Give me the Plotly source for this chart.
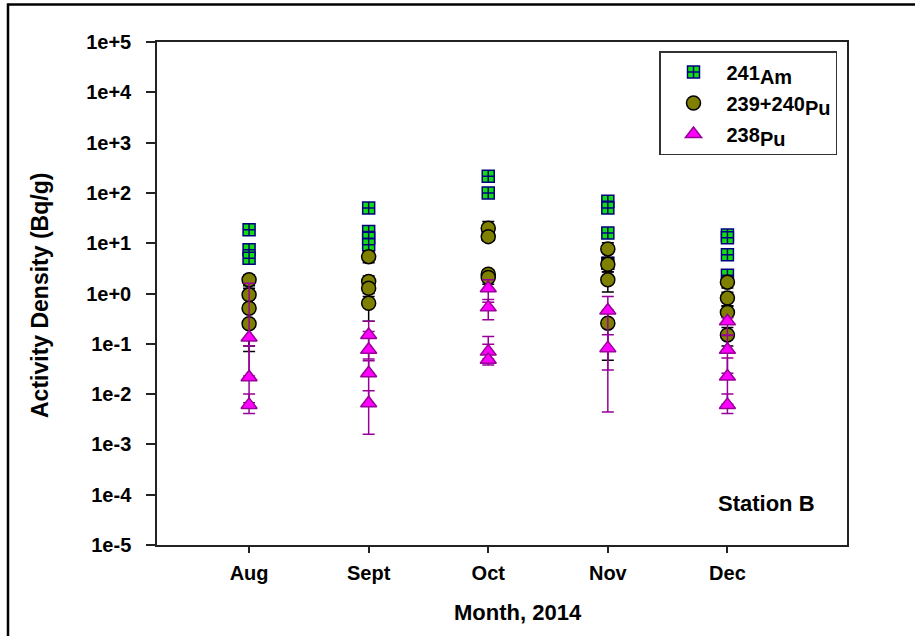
import plotly.graph_objects as go

# ---------------- data ----------------
months = ["Aug", "Sept", "Oct", "Nov", "Dec"]

# 241Am
am_month = ["Aug", "Aug", "Aug", "Sept", "Sept", "Sept", "Sept", "Oct", "Oct", "Oct",
            "Nov", "Nov", "Nov", "Nov", "Dec", "Dec", "Dec", "Dec"]
am_val = [18.5, 7.4, 5.0, 50, 17, 12.6, 9.3, 215, 100, 15,
          68, 50, 16, 4.0, 14.5, 12.8, 5.9, 2.3]
am_err = [1.3, 0.6, 0.4, 3.5, 1.3, 1.0, 0.7, 15, 7, 1.1,
          5, 3.5, 1.2, 0.3, 1.0, 0.9, 0.45, 0.18]

# 239+240Pu
pu9_month = ["Aug", "Aug", "Aug", "Aug", "Sept", "Sept", "Sept", "Sept", "Oct", "Oct", "Oct", "Oct",
             "Nov", "Nov", "Nov", "Nov", "Dec", "Dec", "Dec", "Dec"]
pu9_val = [1.87, 0.94, 0.51, 0.25, 5.4, 1.73, 1.27, 0.64, 19.9, 13.5, 2.42, 2.08,
           7.7, 3.8, 1.87, 0.257, 1.68, 0.81, 0.42, 0.15]
pu9_err = [0.45, 0.33, 0.42, 0.18, 1.3, 0.5, 0.4, 0.36, 7.0, 2.5, 0.55, 0.55,
           2.5, 1.1, 0.8, 0.21, 0.4, 0.25, 0.15, 0.06]

# 238Pu
pu8_month = ["Aug", "Aug", "Aug", "Sept", "Sept", "Sept", "Sept", "Oct", "Oct", "Oct", "Oct",
             "Nov", "Nov", "Dec", "Dec", "Dec", "Dec"]
pu8_val = [0.133, 0.0217, 0.0061, 0.15, 0.076, 0.026, 0.0066, 1.27, 0.53, 0.070, 0.048,
           0.46, 0.082, 0.28, 0.076, 0.0223, 0.0061]
pu8_err_plus = [1.47, 0.07, 0.004, 0.13, 0.10, 0.02, 0.005, 0.6, 0.23, 0.07, 0.05,
                0.41, 0.07, 0.05, 0.07, 0.03, 0.004]
pu8_err_minus = [0.11, 0.015, 0.002, 0.10, 0.05, 0.02, 0.005, 0.6, 0.23, 0.02, 0.01,
                 0.43, 0.0776, 0.13, 0.05, 0.016, 0.002]

y_tickvals = [1e-5, 1e-4, 1e-3, 1e-2, 1e-1, 1e0, 1e1, 1e2, 1e3, 1e4, 1e5]
y_ticktext = ["1e-5", "1e-4", "1e-3", "1e-2", "1e-1", "1e+0", "1e+1", "1e+2", "1e+3", "1e+4", "1e+5"]

FONT = "Liberation Sans, Arial, sans-serif"

fig = go.Figure()

fig.add_trace(go.Scatter(
    x=am_month, y=am_val, mode="markers",
    name='241<sub><span style="font-size:20px">Am</span></sub>',
    legendgroup="a",
    marker=dict(symbol="square-cross", size=12, color="#11dd11",
                line=dict(color="#000080", width=1.5)),
    error_y=dict(type="data", array=am_err, color="#000080", thickness=1.5, width=6),
))
fig.add_trace(go.Scatter(
    x=pu9_month, y=pu9_val, mode="markers",
    name='239+240<sub><span style="font-size:20px">Pu</span></sub>',
    legendgroup="b",
    marker=dict(symbol="circle", size=14, color="#808000",
                line=dict(color="#000000", width=1.5)),
    error_y=dict(type="data", array=pu9_err, color="#000000", thickness=1.5, width=6),
))
fig.add_trace(go.Scatter(
    x=pu8_month, y=pu8_val, mode="markers",
    name='238<sub><span style="font-size:20px">Pu</span></sub>',
    legendgroup="c",
    marker=dict(symbol="triangle-up", size=14, color="#ff00ff",
                line=dict(color="#990099", width=1.5)),
    error_y=dict(type="data", symmetric=False, array=pu8_err_plus, arrayminus=pu8_err_minus,
                 color="#990099", thickness=1.5, width=6),
))

L, R, T, B = 157, 68, 42, 91
W, H = 915, 636
pw, ph = W - L - R, H - T - B

def px_to_paper_x(px):
    return (px - L) / pw

def px_to_paper_y(py):
    return (H - B - py) / ph

fig.update_layout(
    width=W, height=H,
    margin=dict(l=L, r=R, t=T, b=B, pad=0),
    paper_bgcolor="white", plot_bgcolor="white",
    font=dict(family=FONT, color="black", size=20, weight="bold"),
    showlegend=True,
    legend=dict(
        x=px_to_paper_x(659), y=px_to_paper_y(51), xanchor="left", yanchor="top",
        bordercolor="#333333", borderwidth=1.5, bgcolor="white",
        font=dict(family=FONT, size=20, color="black", weight="bold"),
        tracegroupgap=2, itemwidth=56, traceorder="grouped",
    ),
    xaxis=dict(
        type="category", categoryorder="array", categoryarray=months,
        range=[-0.77, 5.0],
        showline=True, linecolor="#222222", linewidth=1.5, mirror=True,
        ticks="outside", ticklen=6, tickwidth=1.5, tickcolor="#222222",
        tickfont=dict(family=FONT, size=20, weight="bold"),
        ticklabelstandoff=3,
        showgrid=False, zeroline=False, automargin=False,
    ),
    yaxis=dict(
        type="log", range=[-5, 5],
        tickvals=y_tickvals, ticktext=y_ticktext,
        showline=True, linecolor="#222222", linewidth=1.5, mirror=True,
        ticks="outside", ticklen=9, tickwidth=1.5, tickcolor="#222222",
        tickfont=dict(family=FONT, size=20, weight="bold"),
        ticklabelstandoff=11,
        showgrid=False, zeroline=False, automargin=False,
    ),
    shapes=[dict(
        type="rect", xref="paper", yref="paper",
        x0=px_to_paper_x(8), x1=px_to_paper_x(W + 20),
        y0=px_to_paper_y(H + 20), y1=px_to_paper_y(4.5),
        line=dict(color="black", width=2.5), fillcolor="rgba(0,0,0,0)", layer="below",
    )],
    annotations=[
        dict(text="Station B", xref="paper", yref="paper",
             x=px_to_paper_x(766), y=px_to_paper_y(503), xanchor="center", yanchor="middle",
             showarrow=False, font=dict(family=FONT, size=22, weight="bold")),
        dict(text="Month, 2014", xref="paper", yref="paper",
             x=px_to_paper_x(518), y=px_to_paper_y(612), xanchor="center", yanchor="middle",
             showarrow=False, font=dict(family=FONT, size=22, weight="bold")),
        dict(text="Activity Density (Bq/g)", xref="paper", yref="paper",
             x=px_to_paper_x(40), y=px_to_paper_y(296), xanchor="center", yanchor="middle",
             textangle=-90, showarrow=False, font=dict(family=FONT, size=23, weight="bold")),
    ],
)

fig.write_html("out.html")
